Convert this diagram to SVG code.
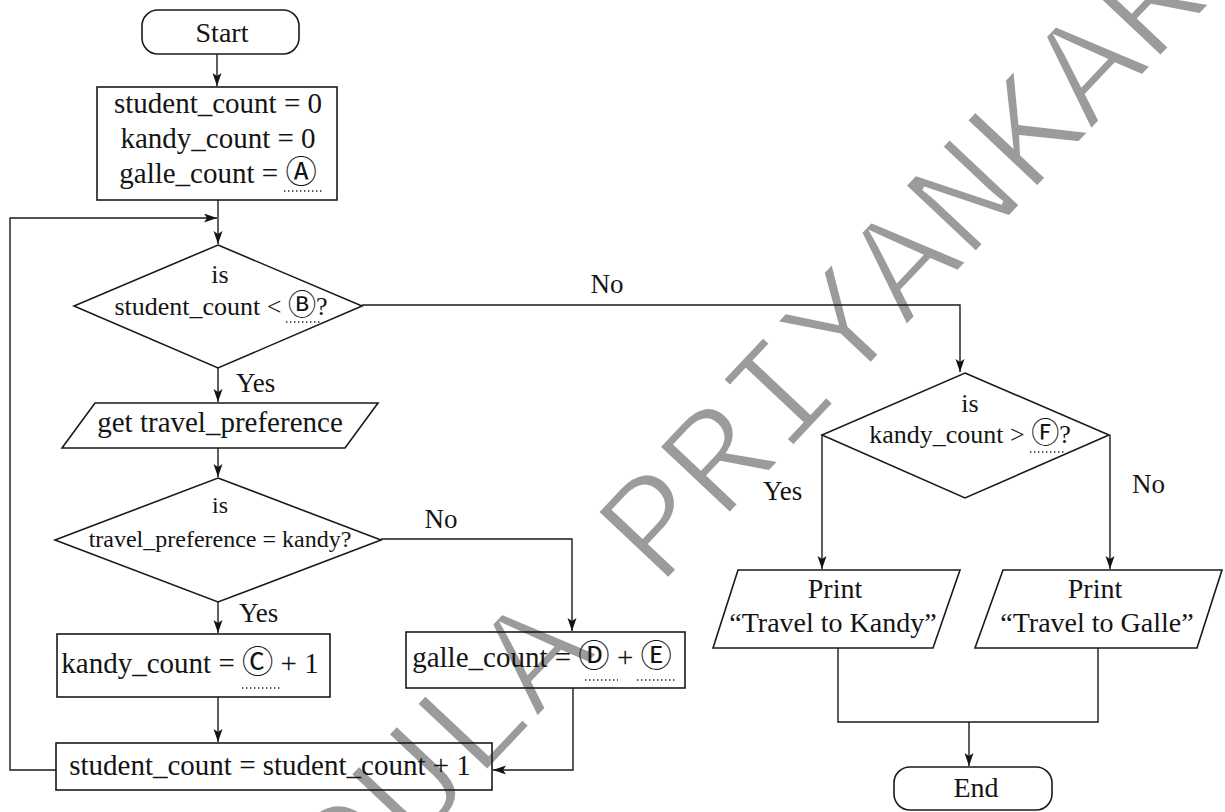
<svg xmlns="http://www.w3.org/2000/svg" width="1225" height="812" viewBox="0 0 1225 812">
<defs>
<marker id="ah" markerUnits="userSpaceOnUse" markerWidth="14" markerHeight="10" refX="13" refY="4.5" orient="auto">
<path d="M0,0 L13,4.5 L0,9 L3,4.5 Z" fill="#141414"/>
</marker>
<style>
.n{fill:none;stroke:#1a1a1a;stroke-width:1.6}
.c{fill:none;stroke:#1a1a1a;stroke-width:1.4;marker-end:url(#ah)}
.l{fill:none;stroke:#1a1a1a;stroke-width:1.4}
.t{font-family:"Liberation Serif","Times New Roman",serif;fill:#141414;text-anchor:middle}
.s{text-anchor:start}
.f29{font-size:29px}.f28{font-size:28px}.f27{font-size:27px}.f26{font-size:26px}.f24{font-size:24px}
.ci{font-family:"DejaVu Sans","Noto Sans CJK SC",sans-serif;font-size:1.08em}
.dot{stroke:#222;stroke-width:1.6;stroke-dasharray:1.4 2.6;fill:none}
.wm{font-family:"Liberation Mono","Courier New",monospace;font-size:149.5px;fill:#9b9b9b;stroke:#ffffff;stroke-width:4;stroke-linejoin:miter}
</style>
</defs>
<rect width="1225" height="812" fill="#ffffff"/>
<text class="wm" x="291" y="980" transform="rotate(-46.7 291 980)">UDULA PRIYANKARA</text>

<g id="connectors">
<line class="c" x1="217" y1="54" x2="217" y2="86"/>
<line class="c" x1="218" y1="200" x2="218" y2="244"/>
<polyline class="c" points="56,770 10,770 10,218 217,218"/>
<polyline class="c" points="362,305 960,305 960,372"/>
<text class="t f27" x="607" y="293">No</text>
<line class="c" x1="218" y1="368" x2="218" y2="402"/>
<text class="t f27 s" x="236" y="392">Yes</text>
<line class="c" x1="218" y1="448" x2="218" y2="477"/>
<polyline class="c" points="381,539 572,539 572,631"/>
<text class="t f27" x="441" y="528">No</text>
<line class="c" x1="218" y1="602" x2="218" y2="633"/>
<text class="t f27 s" x="239" y="622">Yes</text>
<line class="c" x1="218" y1="697" x2="218" y2="742"/>
<polyline class="c" points="573,688 573,770 493,770"/>
<line class="c" x1="822" y1="435" x2="822" y2="569"/>
<text class="t f27 s" x="763" y="500">Yes</text>
<line class="c" x1="1110" y1="435" x2="1110" y2="569"/>
<text class="t f27 s" x="1132" y="493">No</text>
<polyline class="l" points="838,648 838,722 1098,722 1098,648"/>
<line class="c" x1="969" y1="722" x2="969" y2="766"/>
</g>

<g id="start">
<rect class="n" x="142" y="10" width="157" height="44" rx="16"/>
<text class="t f28" x="222" y="42">Start</text>
</g>

<g id="init">
<rect class="n" x="97" y="87" width="240" height="113"/>
<text class="t f29" x="218" y="113">student_count = 0</text>
<text class="t f29" x="218" y="148">kandy_count = 0</text>
<text class="t f29" x="218" y="183">galle_count = <tspan class="ci">Ⓐ</tspan></text>
<line class="dot" x1="284" y1="191" x2="322" y2="191"/>
</g>

<g id="decision1">
<polygon class="n" points="218,245 362,306 218,368 74,306"/>
<text class="t f26" x="220" y="283">is</text>
<text class="t f26" x="221" y="315">student_count &lt; <tspan class="ci">Ⓑ</tspan>?</text>
<line class="dot" x1="286" y1="322" x2="322" y2="322"/>
</g>

<g id="input">
<polygon class="n" points="95,403 378,403 345,448 62,448"/>
<text class="t f29" x="220" y="432">get travel_preference</text>
</g>

<g id="decision2">
<polygon class="n" points="218,478 381,540 218,602 55,540"/>
<text class="t f24" x="220" y="513">is</text>
<text class="t f24" x="220" y="547">travel_preference = kandy?</text>
</g>

<g id="kandy">
<rect class="n" x="57" y="634" width="273" height="63"/>
<text class="t f29" x="190" y="673">kandy_count = <tspan class="ci">Ⓒ</tspan> + 1</text>
<line class="dot" x1="242" y1="688" x2="280" y2="688"/>
</g>

<g id="galle">
<rect class="n" x="406" y="632" width="279" height="56"/>
<text class="t f29" x="542" y="667">galle_count = <tspan class="ci">Ⓓ</tspan> + <tspan class="ci">Ⓔ</tspan></text>
<line class="dot" x1="585" y1="680" x2="618" y2="680"/>
<line class="dot" x1="637" y1="680" x2="675" y2="680"/>
</g>

<g id="increment">
<rect class="n" x="56" y="743" width="436" height="47"/>
<text class="t f29" x="270" y="775">student_count = student_count + 1</text>
</g>

<g id="decision3">
<polygon class="n" points="965,373 1109,435 965,498 822,435"/>
<text class="t f26" x="970" y="412">is</text>
<text class="t f26" x="970" y="443">kandy_count &gt; <tspan class="ci">Ⓕ</tspan>?</text>
<line class="dot" x1="1030" y1="452" x2="1064" y2="452"/>
</g>

<g id="printKandy">
<polygon class="n" points="738,570 960,570 933,648 713,648"/>
<text class="t f28" x="835" y="598">Print</text>
<text class="t f28" x="833" y="632">“Travel to Kandy”</text>
</g>

<g id="printGalle">
<polygon class="n" points="1003,570 1222,570 1197,648 975,648"/>
<text class="t f28" x="1095" y="598">Print</text>
<text class="t f28" x="1097" y="632">“Travel to Galle”</text>
</g>

<g id="end">
<rect class="n" x="894" y="767" width="158" height="43" rx="16"/>
<text class="t f28" x="976" y="797">End</text>
</g>
</svg>
